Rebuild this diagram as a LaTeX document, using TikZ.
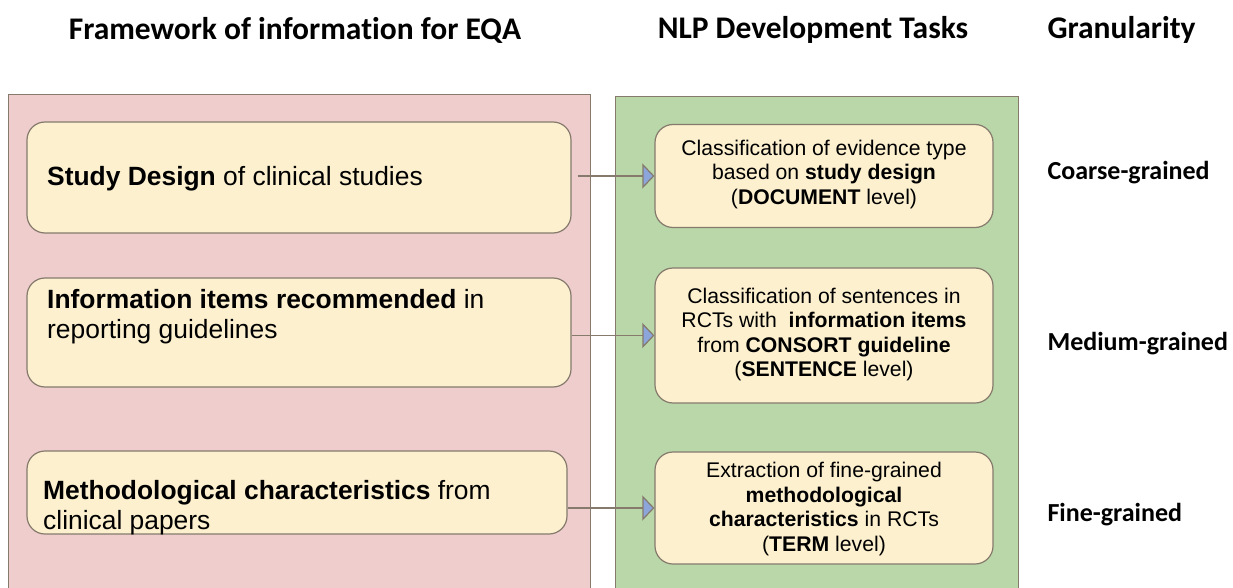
\documentclass[tikz,border=0pt]{standalone}
\usepackage{fontspec}
\setmainfont{Liberation Sans}
\newfontfamily\headfont[Ligatures=NoCommon]{Carlito}
\usetikzlibrary{arrows.meta}
\definecolor{panelpink}{HTML}{EECDCC}
\definecolor{panelgreen}{HTML}{B9D7A9}
\definecolor{boxfill}{HTML}{FCF0CF}
\definecolor{edgegray}{HTML}{857A6C}
\definecolor{tipblue}{HTML}{8CA5DA}
\begin{document}
\begin{tikzpicture}[x=1pt,y=-1pt,
  panel/.style={draw=edgegray,line width=1pt},
  taskbox/.style={draw=edgegray,fill=boxfill,line width=1.2pt,rounded corners=18pt},
  heading/.style={font=\headfont\bfseries\fontsize{31.5}{36}\selectfont},
  grain/.style={font=\headfont\bfseries\fontsize{26}{30}\selectfont,anchor=west},
  lefttext/.style={font=\fontsize{26.4}{30}\selectfont,align=left,anchor=west,inner sep=0pt},
  righttext/.style={font=\fontsize{21.2}{24.5}\selectfont,align=center,inner sep=0pt},
  link/.style={draw=edgegray,line width=1.2pt,
    -{Triangle[length=12pt,width=25pt,fill=tipblue]}}]
\useasboundingbox (0,0) rectangle (1233,588);

% headings
\node[heading] (h1) at (295,30) {Framework of information for EQA};
\node[heading] (h2) at (813,30) {NLP Development Tasks};
\node[heading,anchor=west] (h3) at (1044,30) {Granularity};

% background panels
\draw[panel,fill=panelpink] (8,95) rectangle (590,592);
\draw[panel,fill=panelgreen] (615,97) rectangle (1018,592);

% information framework boxes
\node[taskbox,minimum width=544pt,minimum height=111pt] (l1) at (299,177.5) {};
\node[taskbox,minimum width=544pt,minimum height=109pt] (l2) at (299,332.5) {};
\node[taskbox,minimum width=540pt,minimum height=83pt] (l3) at (297,492.5) {};
\node[lefttext] (t1) at (47,179) {\textbf{Study Design} of clinical studies};
\node[lefttext] (t2) at (47,317) {\textbf{Information items recommended} in\\reporting guidelines};
\node[lefttext] (t3) at (43,507.5) {\textbf{Methodological characteristics} from\\clinical papers};

% NLP task boxes
\node[taskbox,minimum width=338pt,minimum height=103pt] (r1) at (824,176) {};
\node[taskbox,minimum width=338pt,minimum height=135pt] (r2) at (824,335.5) {};
\node[taskbox,minimum width=338pt,minimum height=112pt] (r3) at (824,508) {};
\node[righttext] (u1) at (824,174.5) {Classification of evidence type\\based on \textbf{study design}\\(\textbf{DOCUMENT} level)};
\node[righttext] (u2) at (824,334.5) {Classification of sentences in\\RCTs with\ \ \textbf{information items}\\from \textbf{CONSORT guideline}\\(\textbf{SENTENCE} level)};
\node[righttext] (u3) at (824,509) {Extraction of fine-grained\\\textbf{methodological}\\\textbf{characteristics} in RCTs\\(\textbf{TERM} level)};

% links from framework to tasks
\draw[link,shorten <=6pt] (l1.east |- r1.west) -- (r1.west);
\draw[link] (l2.east |- r2.west) -- (r2.west);
\draw[link] (l3.east |- r3.west) -- (r3.west);

% granularity labels
\node[grain] (g1) at (1044,173) {Coarse-grained};
\node[grain] (g2) at (1044,344) {Medium-grained};
\node[grain] (g3) at (1044,515) {Fine-grained};
\end{tikzpicture}
\end{document}
